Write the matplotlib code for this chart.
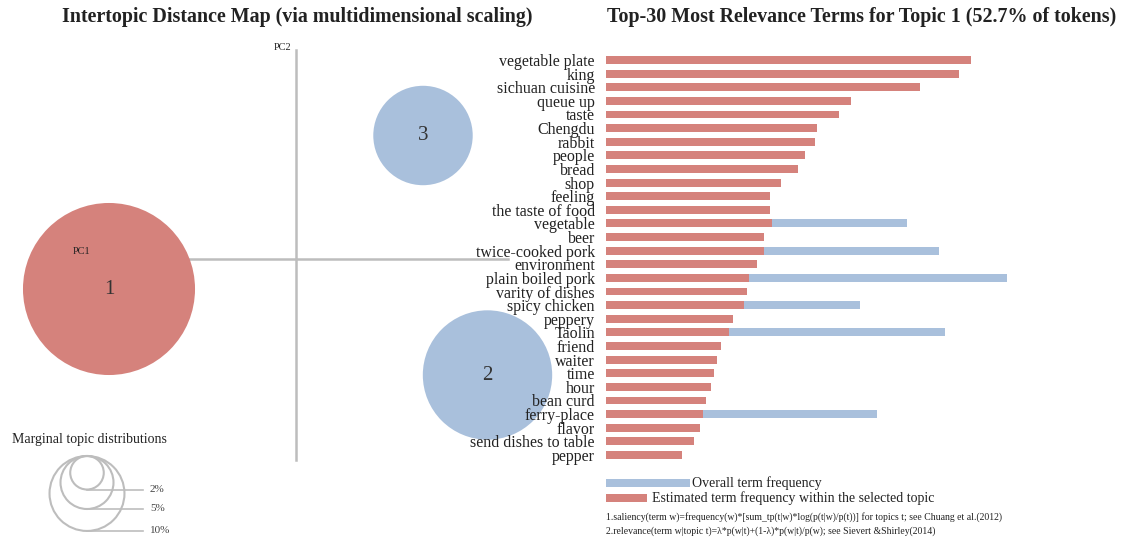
import numpy as np
import matplotlib
matplotlib.use("Agg")
import matplotlib.pyplot as plt
from matplotlib.patches import Circle, Rectangle

plt.rcParams['font.family'] = ['Liberation Serif', 'DejaVu Serif']

RED = '#d5827c'
BLUE = '#a9c0dc'
AXIS_GREY = '#bdbdbd'
TEXT = '#222222'

# topics on the first two principal coordinates, share of tokens in %
topic_ids = ['1', '2', '3']
topic_pc1 = [-0.187, 0.1915, 0.127]
topic_pc2 = [-0.030, -0.116, 0.1235]
topic_share = [52.7, 29.8, 17.6]

legend_shares = [2, 5, 10]
legend_labels = ['2%', '5%', '10%']

# top-30 terms for topic 1
terms = ['vegetable plate', 'king', 'sichuan cuisine', 'queue up', 'taste', 'Chengdu',
         'rabbit', 'people', 'bread', 'shop', 'feeling', 'the taste of food',
         'vegetable', 'beer', 'twice-cooked pork', 'environment', 'plain boiled pork',
         'varity of dishes', 'spicy chicken', 'peppery', 'Taolin', 'friend', 'waiter',
         'time', 'hour', 'bean curd', 'ferry-place', 'flavor', 'send dishes to table',
         'pepper']
topic_freq = [365, 353, 314, 245, 233, 211, 209, 199, 192, 175, 164, 164,
              166, 158, 158, 151, 143, 141, 138, 127, 123, 115, 111,
              108, 105, 100, 97, 94, 88, 76]
overall_freq = [365, 353, 314, 245, 233, 211, 209, 199, 192, 175, 164, 164,
                301, 158, 333, 151, 401, 141, 254, 127, 339, 115, 111,
                108, 105, 100, 271, 94, 88, 76]

W, H = 1126, 540
fig = plt.figure(figsize=(W / 100, H / 100), dpi=100)

fig.text(297 / W, 1 - 17 / H, 'Intertopic Distance Map (via multidimensional scaling)',
         ha='center', va='center', fontsize=14.4, fontweight='bold', color=TEXT)
fig.text(862 / W, 1 - 17 / H, 'Top-30 Most Relevance Terms for Topic 1 (52.7% of tokens)',
         ha='center', va='center', fontsize=14.4, fontweight='bold', color=TEXT)

# ---- left panel: intertopic distance map (1 unit = 1000 px)
px = 1000.0
ax = fig.add_axes([0, 0, 560 / W, 1])
ax.set_xlim(-296 / px, (560 - 296) / px)
ax.set_ylim(-(540 - 259) / px, 259 / px)
ax.axis('off')

k = 11.85 / px  # radius per sqrt(% of tokens)

ax.plot([-0.256, 0.212], [0, 0], color=AXIS_GREY, lw=1.8, zorder=1)
ax.plot([0, 0], [-0.201, 0.209], color=AXIS_GREY, lw=1.8, zorder=1)

for tid, x, y, s in zip(topic_ids, topic_pc1, topic_pc2, topic_share):
    col = RED if tid == '1' else BLUE
    ax.add_patch(Circle((x, y), k * np.sqrt(s), facecolor=col, edgecolor='none', zorder=2))
    ax.text(x, y, tid, ha='center', va='center', fontsize=15, color='#333333', zorder=3)

ax.text(-0.223, 0.008, 'PC1', fontsize=7.5, color=TEXT, ha='left', va='center', zorder=3)
ax.text(-0.013, 0.212, 'PC2', fontsize=7.5, color=TEXT, ha='center', va='center')

# marginal topic distribution legend
ax.text(-0.284, -0.181, 'Marginal topic distributions', fontsize=10, color=TEXT,
        ha='left', va='center')
cx, top = -0.209, -0.197
for s, lab in zip(legend_shares, legend_labels):
    r = k * np.sqrt(s)
    ax.add_patch(Circle((cx, top - r), r, facecolor='none', edgecolor=AXIS_GREY, lw=1.5))
    ax.plot([cx, cx + 0.056], [top - 2 * r, top - 2 * r], color=AXIS_GREY, lw=1.2)
    ax.text(cx + 0.063, top - 2 * r, lab, fontsize=8, color='#444444', ha='left', va='center')

# ---- right panel: relevance bars
n = len(terms)
row_top, row_step = 60, 13.62
y_top = row_top - row_step / 2
y_bot = row_top + row_step * (n - 0.5)
bx0, bx1 = 606, 1026
bax = fig.add_axes([bx0 / W, 1 - y_bot / H, (bx1 - bx0) / W, (y_bot - y_top) / H])
ypos = np.arange(n)
bax.barh(ypos, overall_freq, height=0.58, color=BLUE, zorder=1)
bax.barh(ypos, topic_freq, height=0.58, color=RED, zorder=2)
bax.set_xlim(0, bx1 - bx0)
bax.set_ylim(n - 0.5, -0.5)
bax.set_yticks(ypos)
bax.set_yticklabels(terms, fontsize=11.5, color=TEXT)
bax.tick_params(axis='y', length=0, pad=8)
bax.set_xticks([])
for sp in bax.spines.values():
    sp.set_visible(False)

# bar legend
fig.patches.append(Rectangle((606 / W, 1 - 487 / H), 84 / W, 8 / H, facecolor=BLUE,
                             edgecolor='none', transform=fig.transFigure))
fig.patches.append(Rectangle((606 / W, 1 - 502 / H), 41 / W, 8 / H, facecolor=RED,
                             edgecolor='none', transform=fig.transFigure))
fig.text(692 / W, 1 - 483 / H, 'Overall term frequency', fontsize=10, color=TEXT,
         ha='left', va='center')
fig.text(652 / W, 1 - 498 / H, 'Estimated term frequency within the selected topic',
         fontsize=10, color=TEXT, ha='left', va='center')
fig.text(606 / W, 1 - 517 / H,
         '1.saliency(term w)=frequency(w)*[sum_tp(t|w)*log(p(t|w)/p(t))] for topics t; see Chuang et al.(2012)',
         fontsize=7, color=TEXT, ha='left', va='center')
fig.text(606 / W, 1 - 531 / H,
         '2.relevance(term w|topic t)=λ*p(w|t)+(1-λ)*p(w|t)/p(w); see Sievert &Shirley(2014)',
         fontsize=7, color=TEXT, ha='left', va='center')

fig.savefig('out.png', dpi=100, facecolor='white')
